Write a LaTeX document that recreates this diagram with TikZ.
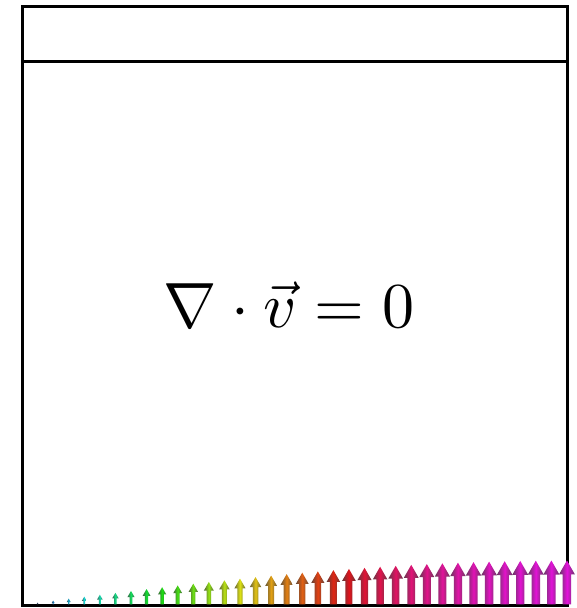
\documentclass[tikz,border=0pt]{standalone}
\usepackage{xcolor}
\usepackage{amsmath,amssymb}
\usepackage{tikz}
\usetikzlibrary{calc}

\begin{document}
\begin{tikzpicture}[
        x=1pt,y=1pt,
        wall/.style={draw,line width=3pt,line join=miter},
        eqtext/.style={font=\normalsize,scale=6.4},
    ]
    \useasboundingbox (0,0) rectangle (576,608);
    % === cavity ===
    \draw[wall] (22,2) rectangle (567,601);
    \draw[wall] (22,546) -- (567,546);
    \node[eqtext] (eq) at (289,303) {$\nabla\cdot\vec{v}=0$};

    % === velocity profile along the bottom ===
    \foreach \i in {1,...,35}{
        \pgfmathsetmacro{\xc}{22+\i*15.57}
        \pgfmathsetmacro{\h}{sin(90*\i/35)}
        \pgfmathsetmacro{\len}{44*\h}
        \pgfmathsetmacro{\hw}{16*\h^0.7}
        \pgfmathsetmacro{\hl}{14*\h^0.7}
        \pgfmathsetmacro{\sw}{8.5*\h^0.9}
        \pgfmathsetmacro{\hue}{mod(1.64-0.8*\h,1)}
        \definecolor{arrcol}{hsb}{\hue,1,0.88}
        \shade[left color=arrcol!45!black,right color=arrcol!45!black,middle color=arrcol!92!white]
            (\xc-\sw/2,3.5) -- (\xc-\sw/2,3.5+\len-\hl) -- (\xc-\hw/2,3.5+\len-\hl)
            -- (\xc,3.5+\len) -- (\xc+\hw/2,3.5+\len-\hl) -- (\xc+\sw/2,3.5+\len-\hl)
            -- (\xc+\sw/2,3.5) -- cycle;
    }
\end{tikzpicture}
\end{document}
